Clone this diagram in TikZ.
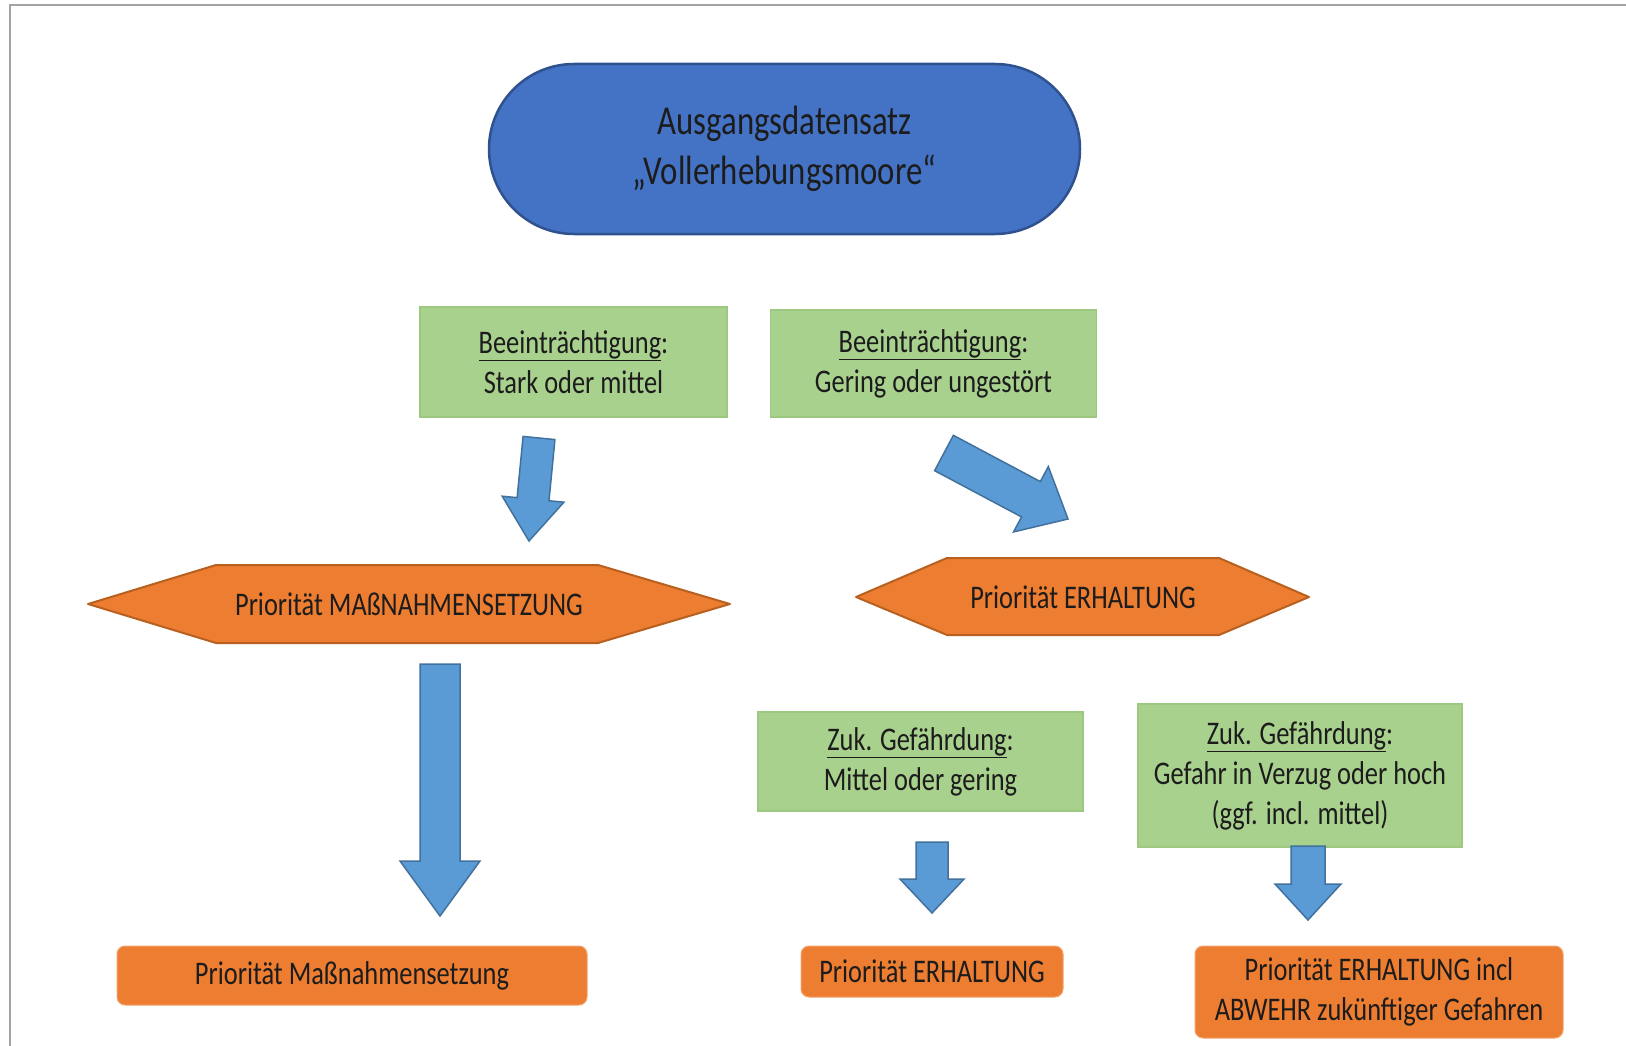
\documentclass[tikz,border=0pt]{standalone}
\usepackage{fontspec}
\setmainfont{Carlito}[FakeStretch=0.8]
\usetikzlibrary{calc}

\definecolor{startblue}{HTML}{4472C4}
\definecolor{startline}{HTML}{2F528F}
\definecolor{boxgreen}{HTML}{A9D18E}
\definecolor{boxgreenline}{HTML}{9CC97F}
\definecolor{prioorange}{HTML}{ED7D31}
\definecolor{hexline}{HTML}{B8601F}
\definecolor{prioline}{HTML}{F2A46E}
\definecolor{arrowblue}{HTML}{5B9BD5}
\definecolor{arrowline}{HTML}{41719C}
\definecolor{framegray}{HTML}{A3A3A3}
\definecolor{textdark}{HTML}{1C1C1C}

% block arrow: tail, tip, half shaft, half head, head length
\newcommand{\blockarrow}[5]{%
  \coordinate (ab) at ($(#2)!#5!(#1)$);
  \draw[bluearrow] ($(#1)!#3!-90:(#2)$) -- ($(ab)!#3!-90:(#2)$)
    -- ($(ab)!#4!-90:(#2)$) -- (#2) -- ($(ab)!#4!90:(#2)$)
    -- ($(ab)!#3!90:(#2)$) -- ($(#1)!#3!90:(#2)$) -- cycle;
}

\tikzset{
  startbox/.style={draw=startline, line width=2.5pt, fill=startblue, rounded corners=85pt,
    inner sep=0pt, align=center, text=textdark, font=\fontsize{41}{50}\selectfont},
  greenbox/.style={draw=boxgreenline, line width=1.2pt, fill=boxgreen, inner sep=0pt,
    align=center, text=textdark, font=\fontsize{33}{40}\selectfont},
  priobox/.style={draw=prioline, line width=1pt, fill=prioorange, rounded corners=8pt,
    inner sep=0pt, align=center, text=textdark, font=\fontsize{33}{40}\selectfont},
  hexa/.style={draw=hexline, line width=2pt, fill=prioorange, line join=round},
  hexatext/.style={text=textdark, font=\fontsize{33}{40}\selectfont},
  bluearrow/.style={draw=arrowline, line width=1.5pt, fill=arrowblue, line join=miter},
}

\begin{document}
\begin{tikzpicture}[x=1pt, y=-1pt]
  \useasboundingbox (0,0) rectangle (1626,1046);
  \draw[framegray, line width=2pt] (10,1046) |- (1626,5);

  % start
  \node[startbox, minimum width=591pt, minimum height=170pt] (start) at (784.5,149)
    {Ausgangsdatensatz\\„Vollerhebungsmoore“};

  % Beeintraechtigung
  \node[greenbox, minimum width=307pt, minimum height=110pt] (stark) at (573.5,362)
    {\underline{Beeinträchtigung}:\\Stark oder mittel};
  \node[greenbox, minimum width=326pt, minimum height=107pt] (gering) at (933.5,363.5)
    {\underline{Beeinträchtigung}:\\Gering oder ungestört};

  \coordinate (stark tail) at (539,438);
  \coordinate (stark tip) at (529,541);
  \blockarrow{stark tail}{stark tip}{16pt}{31pt}{42pt}
  \coordinate (gering tail) at (944,453);
  \coordinate (gering tip) at (1068,519);
  \blockarrow{gering tail}{gering tip}{20pt}{37pt}{42pt}

  % Prioritaeten
  \draw[hexa] (88,604) -- (216,565) -- (598,565) -- (730,604) -- (598,643) -- (216,643) -- cycle;
  \node[hexatext] (massn) at (409,604) {Priorität MAßNAHMENSETZUNG};
  \draw[hexa] (856,597) -- (947,558) -- (1219,558) -- (1309,597) -- (1219,635) -- (947,635) -- cycle;
  \node[hexatext] (erhalt) at (1083,597) {Priorität ERHALTUNG};

  \coordinate (massn tail) at (440,664);
  \coordinate (massn tip) at (440,916);
  \blockarrow{massn tail}{massn tip}{20pt}{40pt}{55pt}

  % zukuenftige Gefaehrdung
  \node[greenbox, minimum width=325pt, minimum height=99pt] (mittel) at (920.5,761.5)
    {\underline{Zuk. Gefährdung}:\\Mittel oder gering};
  \node[greenbox, minimum width=324pt, minimum height=143pt] (hoch) at (1300,775.5)
    {\underline{Zuk. Gefährdung}:\\Gefahr in Verzug oder hoch\\(ggf. incl. mittel)};

  \coordinate (mittel tail) at (932,842);
  \coordinate (mittel tip) at (932,913);
  \blockarrow{mittel tail}{mittel tip}{16pt}{32pt}{34pt}
  \coordinate (hoch tail) at (1308,846);
  \coordinate (hoch tip) at (1308,920);
  \blockarrow{hoch tail}{hoch tip}{17pt}{33pt}{36pt}

  % Ergebnis
  \node[priobox, minimum width=470pt, minimum height=59pt] (res massn) at (352,975.5)
    {Priorität Maßnahmensetzung};
  \node[priobox, minimum width=262pt, minimum height=51pt] (res erhalt) at (932,971.5)
    {Priorität ERHALTUNG};
  \node[priobox, minimum width=368pt, minimum height=92pt] (res abwehr) at (1379,992)
    {Priorität ERHALTUNG incl\\ABWEHR zukünftiger Gefahren};
\end{tikzpicture}
\end{document}
